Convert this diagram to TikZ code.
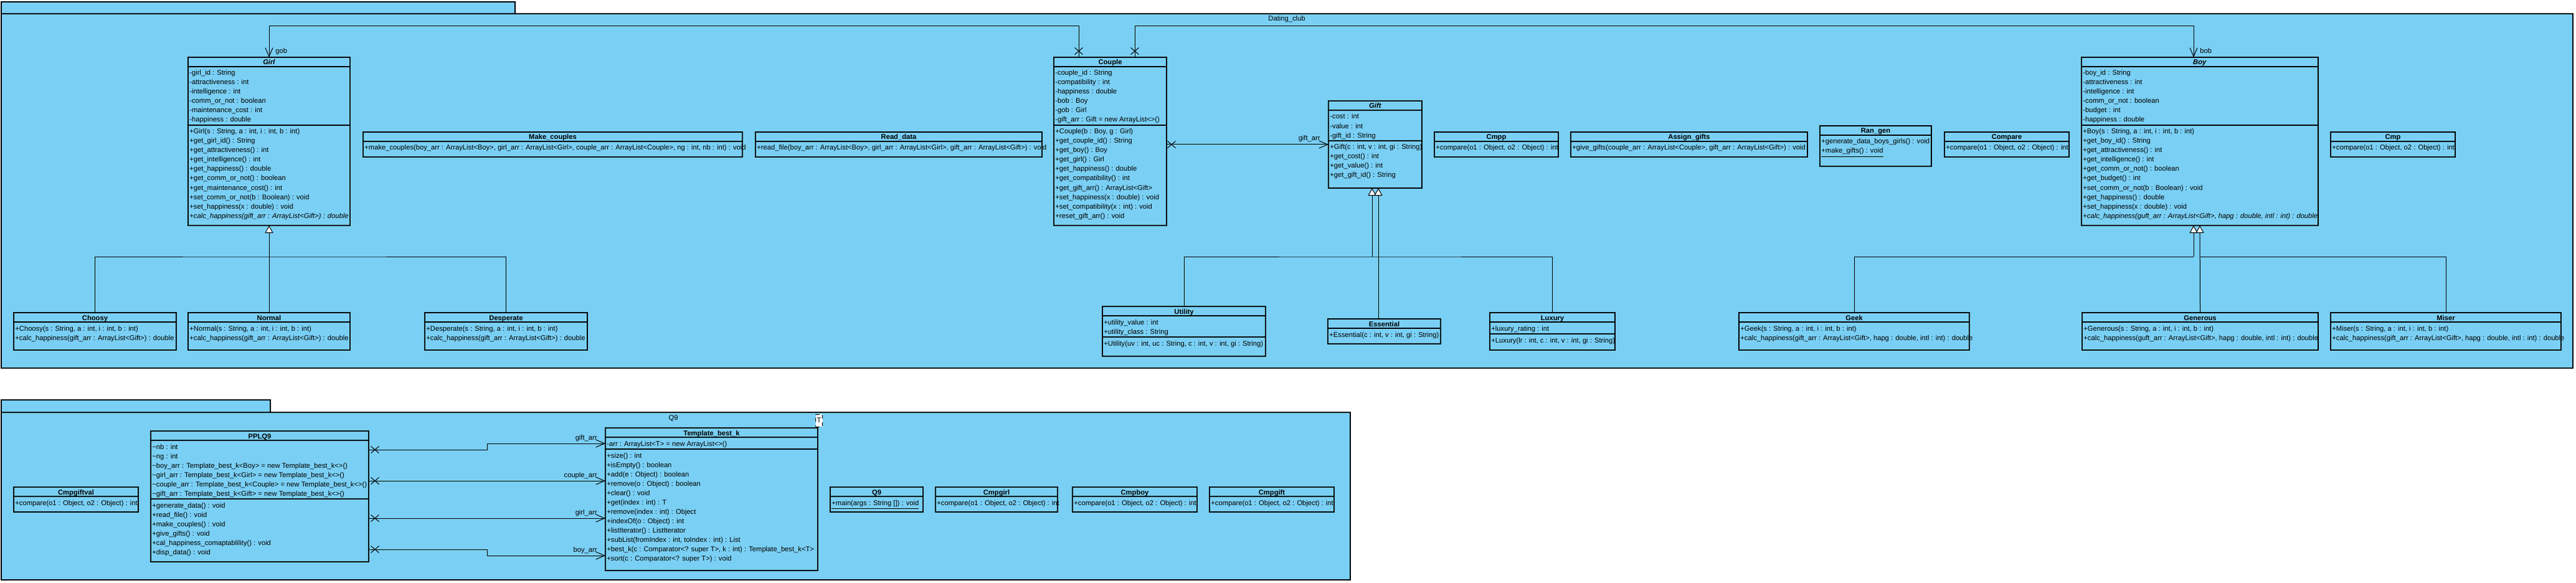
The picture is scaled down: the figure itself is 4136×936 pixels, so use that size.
\documentclass[tikz,border=0pt]{standalone}
\usepackage{fontspec}
\setmainfont{Liberation Sans}
\usetikzlibrary{calc,arrows.meta,shapes.misc}
\definecolor{umlblue}{RGB}{122,207,245}

% one class box: name, x, y, width, height, number of attributes, title, attributes, operations
\newcommand{\umlclass}[9]{%
  \node[cls, minimum width=#4*0.5pt, minimum height=#5*0.5pt] (#1) at (#2,#3) {};
  \node[ttl] at ($(#1.north)+(0,12)$) {#7};
  \draw[sep] ($(#1.north west)+(0,15)$) -- ++(#4,0);
  \ifnum#6>0
    \foreach \mline [count=\i] in {#8}
      \node[mem] at ($(#1.north west)+(2,14+15*\i)$) {\mline};
    \draw[sep] ($(#1.north west)+(0,19+15*#6)$) -- ++(#4,0);
    \def\opoff{4+15*#6}%
  \else
    \def\opoff{0}%
  \fi
  \foreach \mline [count=\i] in {#9}
    \node[mem] at ($(#1.north west)+(2,14+15*\i+\opoff)$) {\mline};
}

\begin{document}
\begin{tikzpicture}[x=0.5pt, y=-0.5pt,
  cls/.style={draw, fill=umlblue, anchor=north west, inner sep=0pt, outer sep=0pt, line width=0.6pt},
  sep/.style={line width=0.6pt},
  ttl/.style={anchor=base, inner sep=0pt, font=\fontsize{5.6}{6}\selectfont\bfseries},
  mem/.style={anchor=base west, inner sep=0pt, font=\fontsize{5.6}{6}\selectfont},
  lbl/.style={inner sep=0pt, font=\fontsize{5.6}{6}\selectfont},
  pkg/.style={draw, fill=umlblue, line width=0.6pt},
  link/.style={line width=0.5pt},
  assoc/.style={-{Straight Barb[length=7pt,width=6pt]}, line width=0.5pt},
  gen/.style={-{Triangle[open,fill=white,length=6pt,width=6.5pt]}, line width=0.5pt},
  xmark/.style={cross out, draw, minimum width=6pt, minimum height=5pt, inner sep=0pt, line width=0.5pt},
  tparam/.style={draw, dashed, fill=white, inner sep=0pt, minimum width=5.5pt, minimum height=10pt, font=\fontsize{5.6}{6}\selectfont}]
\useasboundingbox (0,0) rectangle (4136,936);

% packages
\draw[pkg] (2,3) rectangle (827,22);
\draw[pkg] (2,22) rectangle (4131,591);
\node[lbl, anchor=base] (dating) at (2066,34) {Dating\_club};
\draw[pkg] (2,642) rectangle (434,662);
\draw[pkg] (2,662) rectangle (2168,931);
\node[lbl, anchor=base] (q9pkg) at (1081,674) {Q9};

% Dating_club
\umlclass{girl}{302}{92}{260}{270}{6}{\textit{Girl}}
 {{-girl\_id : String},{-attractiveness : int},{-intelligence : int},{-comm\_or\_not : boolean},{-maintenance\_cost : int},{-happiness : double}}
 {{+Girl(s : String, a : int, i : int, b : int)},{+get\_girl\_id() : String},{+get\_attractiveness() : int},{+get\_intelligence() : int},{+get\_happiness() : double},{+get\_comm\_or\_not() : boolean},{+get\_maintenance\_cost() : int},{+set\_comm\_or\_not(b : Boolean) : void},{+set\_happiness(x : double) : void},{\textit{+calc\_happiness(gift\_arr : ArrayList<Gift>) : double}}}
\umlclass{couple}{1692}{92}{181}{270}{6}{Couple}
 {{-couple\_id : String},{-compatibility : int},{-happiness : double},{-bob : Boy},{-gob : Girl},{-gift\_arr : Gift = new ArrayList<>()}}
 {{+Couple(b : Boy, g : Girl)},{+get\_couple\_id() : String},{+get\_boy() : Boy},{+get\_girl() : Girl},{+get\_happiness() : double},{+get\_compatibility() : int},{+get\_gift\_arr() : ArrayList<Gift>},{+set\_happiness(x : double) : void},{+set\_compatibility(x : int) : void},{+reset\_gift\_arr() : void}}
\umlclass{gift}{2133}{162}{150}{140}{3}{\textit{Gift}}
 {{-cost : int},{-value : int},{-gift\_id : String}}
 {{+Gift(c : int, v : int, gi : String)},{+get\_cost() : int},{+get\_value() : int},{+get\_gift\_id() : String}}
\umlclass{boy}{3342}{92}{380}{270}{6}{\textit{Boy}}
 {{-boy\_id : String},{-attractiveness : int},{-intelligence : int},{-comm\_or\_not : boolean},{-budget : int},{-happiness : double}}
 {{+Boy(s : String, a : int, i : int, b : int)},{+get\_boy\_id() : String},{+get\_attractiveness() : int},{+get\_intelligence() : int},{+get\_comm\_or\_not() : boolean},{+get\_budget() : int},{+set\_comm\_or\_not(b : Boolean) : void},{+get\_happiness() : double},{+set\_happiness(x : double) : void},{\textit{+calc\_happiness(guft\_arr : ArrayList<Gift>, hapg : double, intl : int) : double}}}
\umlclass{makecouples}{583}{212}{609}{40}{0}{Make\_couples}{}
 {{+make\_couples(boy\_arr : ArrayList<Boy>, girl\_arr : ArrayList<Girl>, couple\_arr : ArrayList<Couple>, ng : int, nb : int) : void}}
\umlclass{readdata}{1213}{212}{460}{40}{0}{Read\_data}{}
 {{+read\_file(boy\_arr : ArrayList<Boy>, girl\_arr : ArrayList<Girl>, gift\_arr : ArrayList<Gift>) : void}}
\umlclass{cmpp}{2303}{212}{199}{40}{0}{Cmpp}{}
 {{+compare(o1 : Object, o2 : Object) : int}}
\umlclass{assigngifts}{2522}{212}{380}{40}{0}{Assign\_gifts}{}
 {{+give\_gifts(couple\_arr : ArrayList<Couple>, gift\_arr : ArrayList<Gift>) : void}}
\umlclass{rangen}{2922}{202}{179}{65}{0}{Ran\_gen}{}
 {{+generate\_data\_boys\_girls() : void},{\underline{+make\_gifts() : void}}}
\umlclass{compare}{3122}{212}{200}{40}{0}{Compare}{}
 {{+compare(o1 : Object, o2 : Object) : int}}
\umlclass{cmp}{3742}{212}{200}{40}{0}{Cmp}{}
 {{+compare(o1 : Object, o2 : Object) : int}}
\umlclass{choosy}{22}{502}{261}{60}{0}{Choosy}{}
 {{+Choosy(s : String, a : int, i : int, b : int)},{+calc\_happiness(gift\_arr : ArrayList<Gift>) : double}}
\umlclass{normal}{302}{502}{260}{60}{0}{Normal}{}
 {{+Normal(s : String, a : int, i : int, b : int)},{+calc\_happiness(gift\_arr : ArrayList<Gift>) : double}}
\umlclass{desperate}{682}{502}{261}{60}{0}{Desperate}{}
 {{+Desperate(s : String, a : int, i : int, b : int)},{+calc\_happiness(gift\_arr : ArrayList<Gift>) : double}}
\umlclass{utility}{1770}{492}{262}{80}{2}{Utility}
 {{+utility\_value : int},{+utility\_class : String}}
 {{+Utility(uv : int, uc : String, c : int, v : int, gi : String)}}
\umlclass{essential}{2132}{512}{181}{40}{0}{Essential}{}
 {{+Essential(c : int, v : int, gi : String)}}
\umlclass{luxury}{2392}{502}{201}{60}{1}{Luxury}
 {{+luxury\_rating : int}}
 {{+Luxury(lr : int, c : int, v : int, gi : String)}}
\umlclass{geek}{2792}{502}{370}{60}{0}{Geek}{}
 {{+Geek(s : String, a : int, i : int, b : int)},{+calc\_happiness(gift\_arr : ArrayList<Gift>, hapg : double, intl : int) : double}}
\umlclass{generous}{3343}{502}{379}{60}{0}{Generous}{}
 {{+Generous(s : String, a : int, i : int, b : int)},{+calc\_happiness(guft\_arr : ArrayList<Gift>, hapg : double, intl : int) : double}}
\umlclass{miser}{3742}{502}{370}{60}{0}{Miser}{}
 {{+Miser(s : String, a : int, i : int, b : int)},{+calc\_happiness(gift\_arr : ArrayList<Gift>, hapg : double, intl : int) : double}}

% Q9
\umlclass{pplq}{242}{692}{350}{210}{6}{PPLQ9}
 {{\textasciitilde nb : int},{\textasciitilde ng : int},{\textasciitilde boy\_arr : Template\_best\_k<Boy> = new Template\_best\_k<>()},{\textasciitilde girl\_arr : Template\_best\_k<Girl> = new Template\_best\_k<>()},{\textasciitilde couple\_arr : Template\_best\_k<Couple> = new Template\_best\_k<>()},{\textasciitilde gift\_arr : Template\_best\_k<Gift> = new Template\_best\_k<>()}}
 {{+generate\_data() : void},{+read\_file() : void},{+make\_couples() : void},{+give\_gifts() : void},{+cal\_happiness\_comaptablility() : void},{+disp\_data() : void}}
\umlclass{tbk}{972}{687}{341}{229}{1}{Template\_best\_k}
 {{-arr : ArrayList<T> = new ArrayList<>()}}
 {{+size() : int},{+isEmpty() : boolean},{+add(e : Object) : boolean},{+remove(o : Object) : boolean},{+clear() : void},{+get(index : int) : T},{+remove(index : int) : Object},{+indexOf(o : Object) : int},{+listIterator() : ListIterator},{+subList(fromIndex : int, toIndex : int) : List},{+best\_k(c : Comparator<? super T>, k : int) : Template\_best\_k<T>},{+sort(c : Comparator<? super T>) : void}}
\node[tparam] (tpar) at (1315,675) {T};
\umlclass{cmpgiftval}{22}{782}{200}{40}{0}{Cmpgiftval}{}
 {{+compare(o1 : Object, o2 : Object) : int}}
\umlclass{qnine}{1333}{782}{149}{40}{0}{Q9}{}
 {{\underline{+main(args : String []) : void}}}
\umlclass{cmpgirl}{1502}{782}{196}{40}{0}{Cmpgirl}{}
 {{+compare(o1 : Object, o2 : Object) : int}}
\umlclass{cmpboy}{1722}{782}{200}{40}{0}{Cmpboy}{}
 {{+compare(o1 : Object, o2 : Object) : int}}
\umlclass{cmpgift}{1942}{782}{200}{40}{0}{Cmpgift}{}
 {{+compare(o1 : Object, o2 : Object) : int}}

% associations
\draw[assoc] ($(couple.north west)+(40,0)$) -- ++(0,-50) -| (girl.north);
\node[xmark] (gobx) at ($(couple.north west)+(40,-10)$) {};
\node[lbl, anchor=base west] (gob) at ($(girl.north)+(10,-6)$) {gob};
\draw[assoc] ($(couple.north west)+(130,0)$) -- ++(0,-50) -| ($(boy.north)+(-10,0)$);
\node[xmark] (bobx) at ($(couple.north west)+(130,-10)$) {};
\node[lbl, anchor=base west] (bob) at ($(boy.north)+(0,-6)$) {bob};
\draw[assoc] (gift.west -| couple.east) -- (gift.west);
\node[xmark] (giftx) at ($(gift.west -| couple.east)+(8,0)$) {};
\node[lbl, anchor=base east] (giftarr) at ($(gift.west)+(-13,-6)$) {gift\_arr};

% generalizations
\coordinate (gj) at ($(girl.south)+(0,50)$);
\draw[gen] (gj) -- (girl.south);
\draw[link] (choosy.north) |- (gj) -| (desperate.north);
\draw[link] (normal.north) -- (gj);
\coordinate (fj) at ($(gift.south)+(-5,110)$);
\coordinate (fe) at ($(gift.south)+(5,0)$);
\draw[gen] (fj) -- ($(gift.south)+(-5,0)$);
\draw[link] (utility.north) |- (fj) -| (luxury.north);
\draw[gen] (essential.north -| fe) -- (fe);
\coordinate (bj) at ($(boy.south)+(-10,50)$);
\draw[gen] (bj) -- ($(boy.south)+(-10,0)$);
\draw[link] (geek.north) |- (bj);
\draw[gen] (generous.north) -- (boy.south);
\draw[link] (miser.north) |- (generous.north |- bj);

% PPLQ9 -> Template_best_k
\draw[assoc] ($(pplq.north east)+(0,30)$) -- ++(190,0) |- ($(tbk.north west)+(0,25)$);
\draw[assoc] ($(pplq.north east)+(0,80)$) -- ($(tbk.north west)+(0,85)$);
\draw[assoc] ($(pplq.north east)+(0,140)$) -- ($(tbk.north west)+(0,145)$);
\draw[assoc] ($(pplq.north east)+(0,190)$) -- ++(190,0) |- ($(tbk.north west)+(0,205)$);
\foreach \dy in {30,80,140,190}
  \node[xmark] at ($(pplq.north east)+(10,\dy)$) {};
\foreach \dy/\t in {25/gift,85/couple,145/girl,205/boy}
  \node[lbl, anchor=base east] at ($(tbk.north west)+(-13,\dy-6)$) {\t\_arr};
\end{tikzpicture}
\end{document}
